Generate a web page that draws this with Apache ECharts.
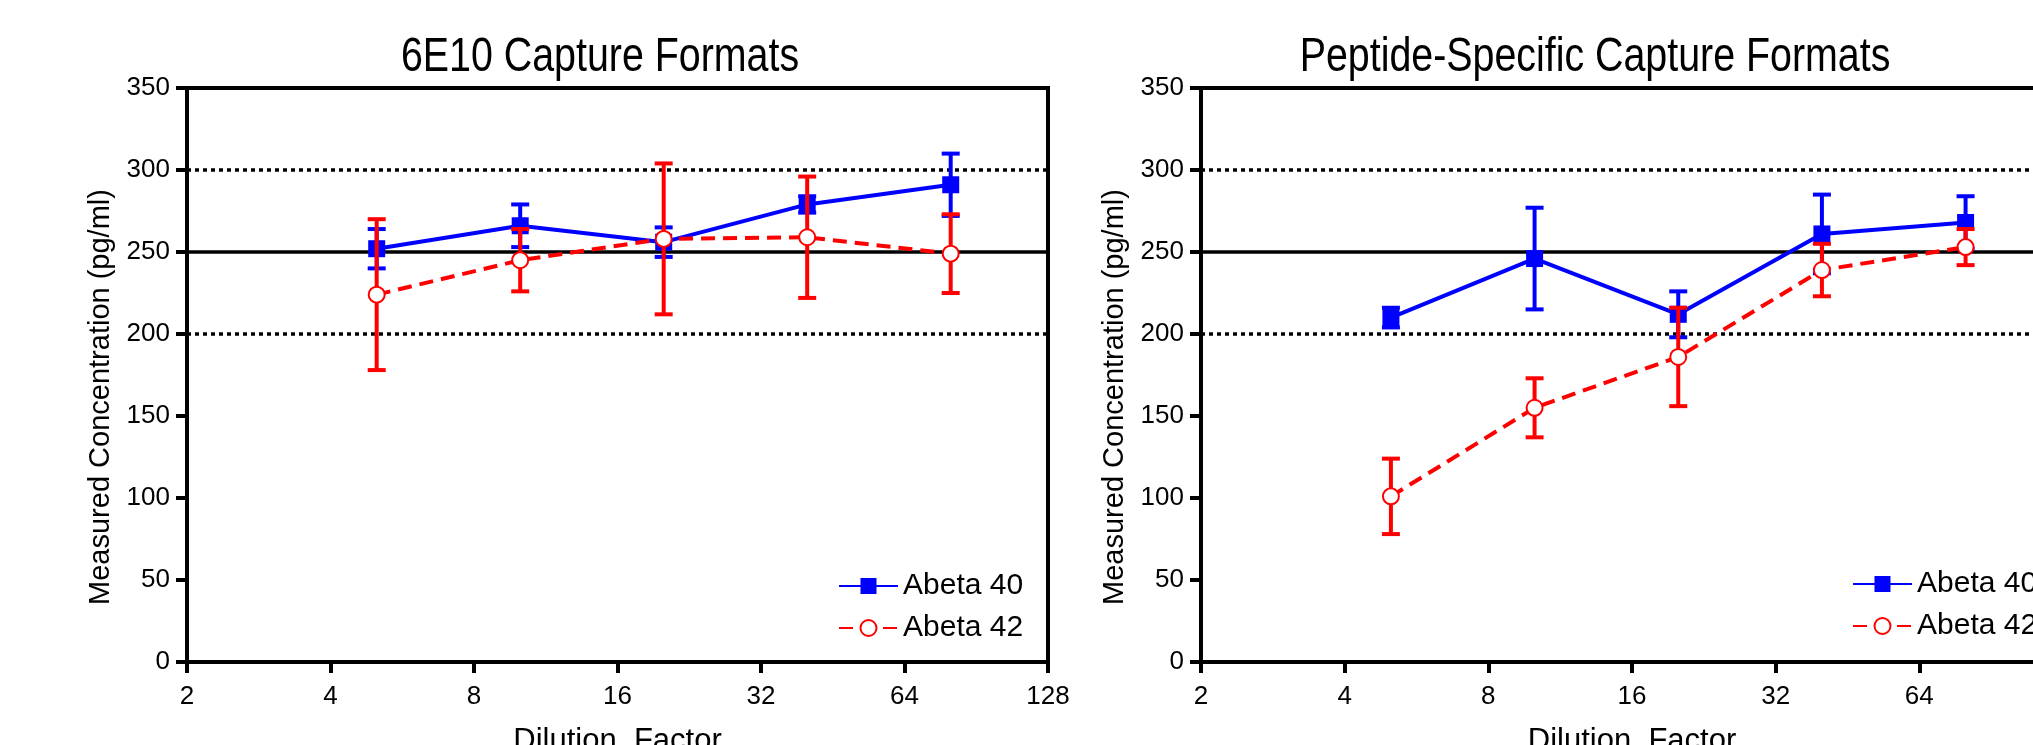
<!DOCTYPE html>
<html>
<head>
<meta charset="utf-8">
<title>Capture Formats</title>
<script src="https://cdn.jsdelivr.net/npm/echarts@6/dist/echarts.min.js"></script>
<style>
    html, body {margin: 0; padding: 0; background: #fff;}
    #chart {width: 2033px; height: 745px;}
</style>
</head>
<body>
<div id="chart"></div>
<script>
// dilution factors (x)
let dilution = [5, 10, 20, 40, 80];

// 6E10 capture formats
let left40 = [252, 266, 256, 279, 291];
let left40Err = [12, 13, 9, 5, 19];
let left42 = [224, 245, 258, 259, 249];
let left42Err = [46, 19, 46, 37, 24];

// peptide-specific capture formats
let right40 = [210, 246, 212, 261, 268];
let right40Err = [6, 31, 14, 24, 16];
let right42 = [101, 155, 186, 239, 253];
let right42Err = [23, 18, 30, 16, 11];

let refLines = [200, 250, 300];
let xTicks = [2, 4, 8, 16, 32, 64, 128];
let titles = ['6E10 Capture Formats', 'Peptide-Specific Capture Formats'];

const BLUE = '#0000ff';
const RED = '#ff0000';
const FONT = 'Liberation Sans, Arial, sans-serif';

function pairs(ys) {
    return dilution.map(function (x, i) { return [x, ys[i]]; });
}

function errData(ys, es) {
    return dilution.map(function (x, i) { return [x, ys[i] - es[i], ys[i] + es[i]]; });
}

// vertical bar with caps
function renderErr(params, api) {
    let lo = api.coord([api.value(0), api.value(1)]);
    let hi = api.coord([api.value(0), api.value(2)]);
    let w = 9;
    let style = {stroke: api.visual('color'), lineWidth: 4};
    return {
        type: 'group',
        children: [
            {type: 'line', shape: {x1: lo[0], y1: lo[1], x2: hi[0], y2: hi[1]}, style: style},
            {type: 'line', shape: {x1: lo[0] - w, y1: lo[1], x2: lo[0] + w, y2: lo[1]}, style: style},
            {type: 'line', shape: {x1: hi[0] - w, y1: hi[1], x2: hi[0] + w, y2: hi[1]}, style: style}
        ]
    };
}

function xAxis(idx) {
    return {
        type: 'log', logBase: 2, gridIndex: idx, min: xTicks[0], max: xTicks[xTicks.length - 1],
        splitNumber: xTicks.length - 1,
        name: 'Dilution  Factor', nameLocation: 'middle', nameGap: 64,
        nameTextStyle: {fontFamily: FONT, fontSize: 31, color: '#000'},
        axisLine: {show: true, lineStyle: {color: '#000', width: 4}},
        axisTick: {show: true, length: 11, lineStyle: {color: '#000', width: 4}},
        axisLabel: {fontFamily: FONT, fontSize: 26, color: '#000', margin: 22, showMinLabel: true, showMaxLabel: true},
        splitLine: {show: false}, minorTick: {show: false}
    };
}

function yAxis(idx) {
    return {
        type: 'value', gridIndex: idx, min: 0, max: 350, interval: 50,
        name: 'Measured Concentration (pg/ml)', nameLocation: 'middle', nameGap: 72,
        // push the name a little down like the original
        nameTextStyle: {fontFamily: FONT, fontSize: 29, color: '#000', padding: [0, 44, 0, 0]},
        axisLine: {show: true, lineStyle: {color: '#000', width: 4}},
        axisTick: {show: true, length: 11, lineStyle: {color: '#000', width: 4}},
        axisLabel: {fontFamily: FONT, fontSize: 26, color: '#000', margin: 17},
        splitLine: {show: false}
    };
}

function refMarks() {
    return {
        silent: true, z: 1, symbol: ['none', 'none'],
        label: {show: false},
        lineStyle: {color: '#000', width: 3.5},
        data: refLines.map(function (v) {
            return {yAxis: v, lineStyle: {color: '#000', width: 3.5, type: v === 250 ? 'solid' : [4, 4]}};
        })
    };
}

function seriesFor(idx, a40, e40, a42, e42) {
    return [
        {
            name: 'err40_' + idx, type: 'custom', xAxisIndex: idx, yAxisIndex: idx, z: 3,
            itemStyle: {color: BLUE}, renderItem: renderErr, data: errData(a40, e40)
        },
        {
            name: 'Abeta 40', type: 'line', xAxisIndex: idx, yAxisIndex: idx, z: 4,
            symbol: 'rect', symbolSize: 17, color: BLUE,
            lineStyle: {color: BLUE, width: 4}, itemStyle: {color: BLUE},
            data: pairs(a40), markLine: refMarks()
        },
        {
            name: 'err42_' + idx, type: 'custom', xAxisIndex: idx, yAxisIndex: idx, z: 5,
            itemStyle: {color: RED}, renderItem: renderErr, data: errData(a42, e42)
        },
        {
            name: 'Abeta 42', type: 'line', xAxisIndex: idx, yAxisIndex: idx, z: 6,
            symbol: 'emptyCircle', symbolSize: 16, color: RED,
            lineStyle: {color: RED, width: 4, type: [14, 8]},
            itemStyle: {color: RED, borderColor: RED, borderWidth: 3.5},
            data: pairs(a42)
        }
    ];
}

function legendAt(left, top) {
    return {
        data: ['Abeta 40', 'Abeta 42'], orient: 'vertical', left: left, top: top,
        itemWidth: 59, itemHeight: 20, itemGap: 12,
        textStyle: {fontFamily: FONT, fontSize: 30, color: '#000'}
    };
}

// titles are set in a narrow face, squeeze a normal one
function titleText(text, cx) {
    return {
        type: 'text', x: cx, y: 58, scaleX: 0.82, silent: true,
        style: {text: text, font: '48px ' + FONT, fill: '#000', textAlign: 'center', textVerticalAlign: 'middle'}
    };
}

let myChart = echarts.init(document.getElementById('chart'), null, {renderer: 'canvas'});
let option = {
    backgroundColor: '#fff',
    animation: false,
    graphic: [titleText(titles[0], 600), titleText(titles[1], 1595)],
    legend: [legendAt(833, 566), legendAt(1847, 564)],
    grid: [
        {left: 187, top: 88, width: 861, height: 574, show: true, borderColor: '#000', borderWidth: 4, outerBoundsMode: 'none'},
        {left: 1201, top: 88, width: 862, height: 574, show: true, borderColor: '#000', borderWidth: 4, outerBoundsMode: 'none'}
    ],
    xAxis: [xAxis(0), xAxis(1)],
    yAxis: [yAxis(0), yAxis(1)],
    series: seriesFor(0, left40, left40Err, left42, left42Err)
        .concat(seriesFor(1, right40, right40Err, right42, right42Err))
};
myChart.setOption(option);
</script>
</body>
</html>
